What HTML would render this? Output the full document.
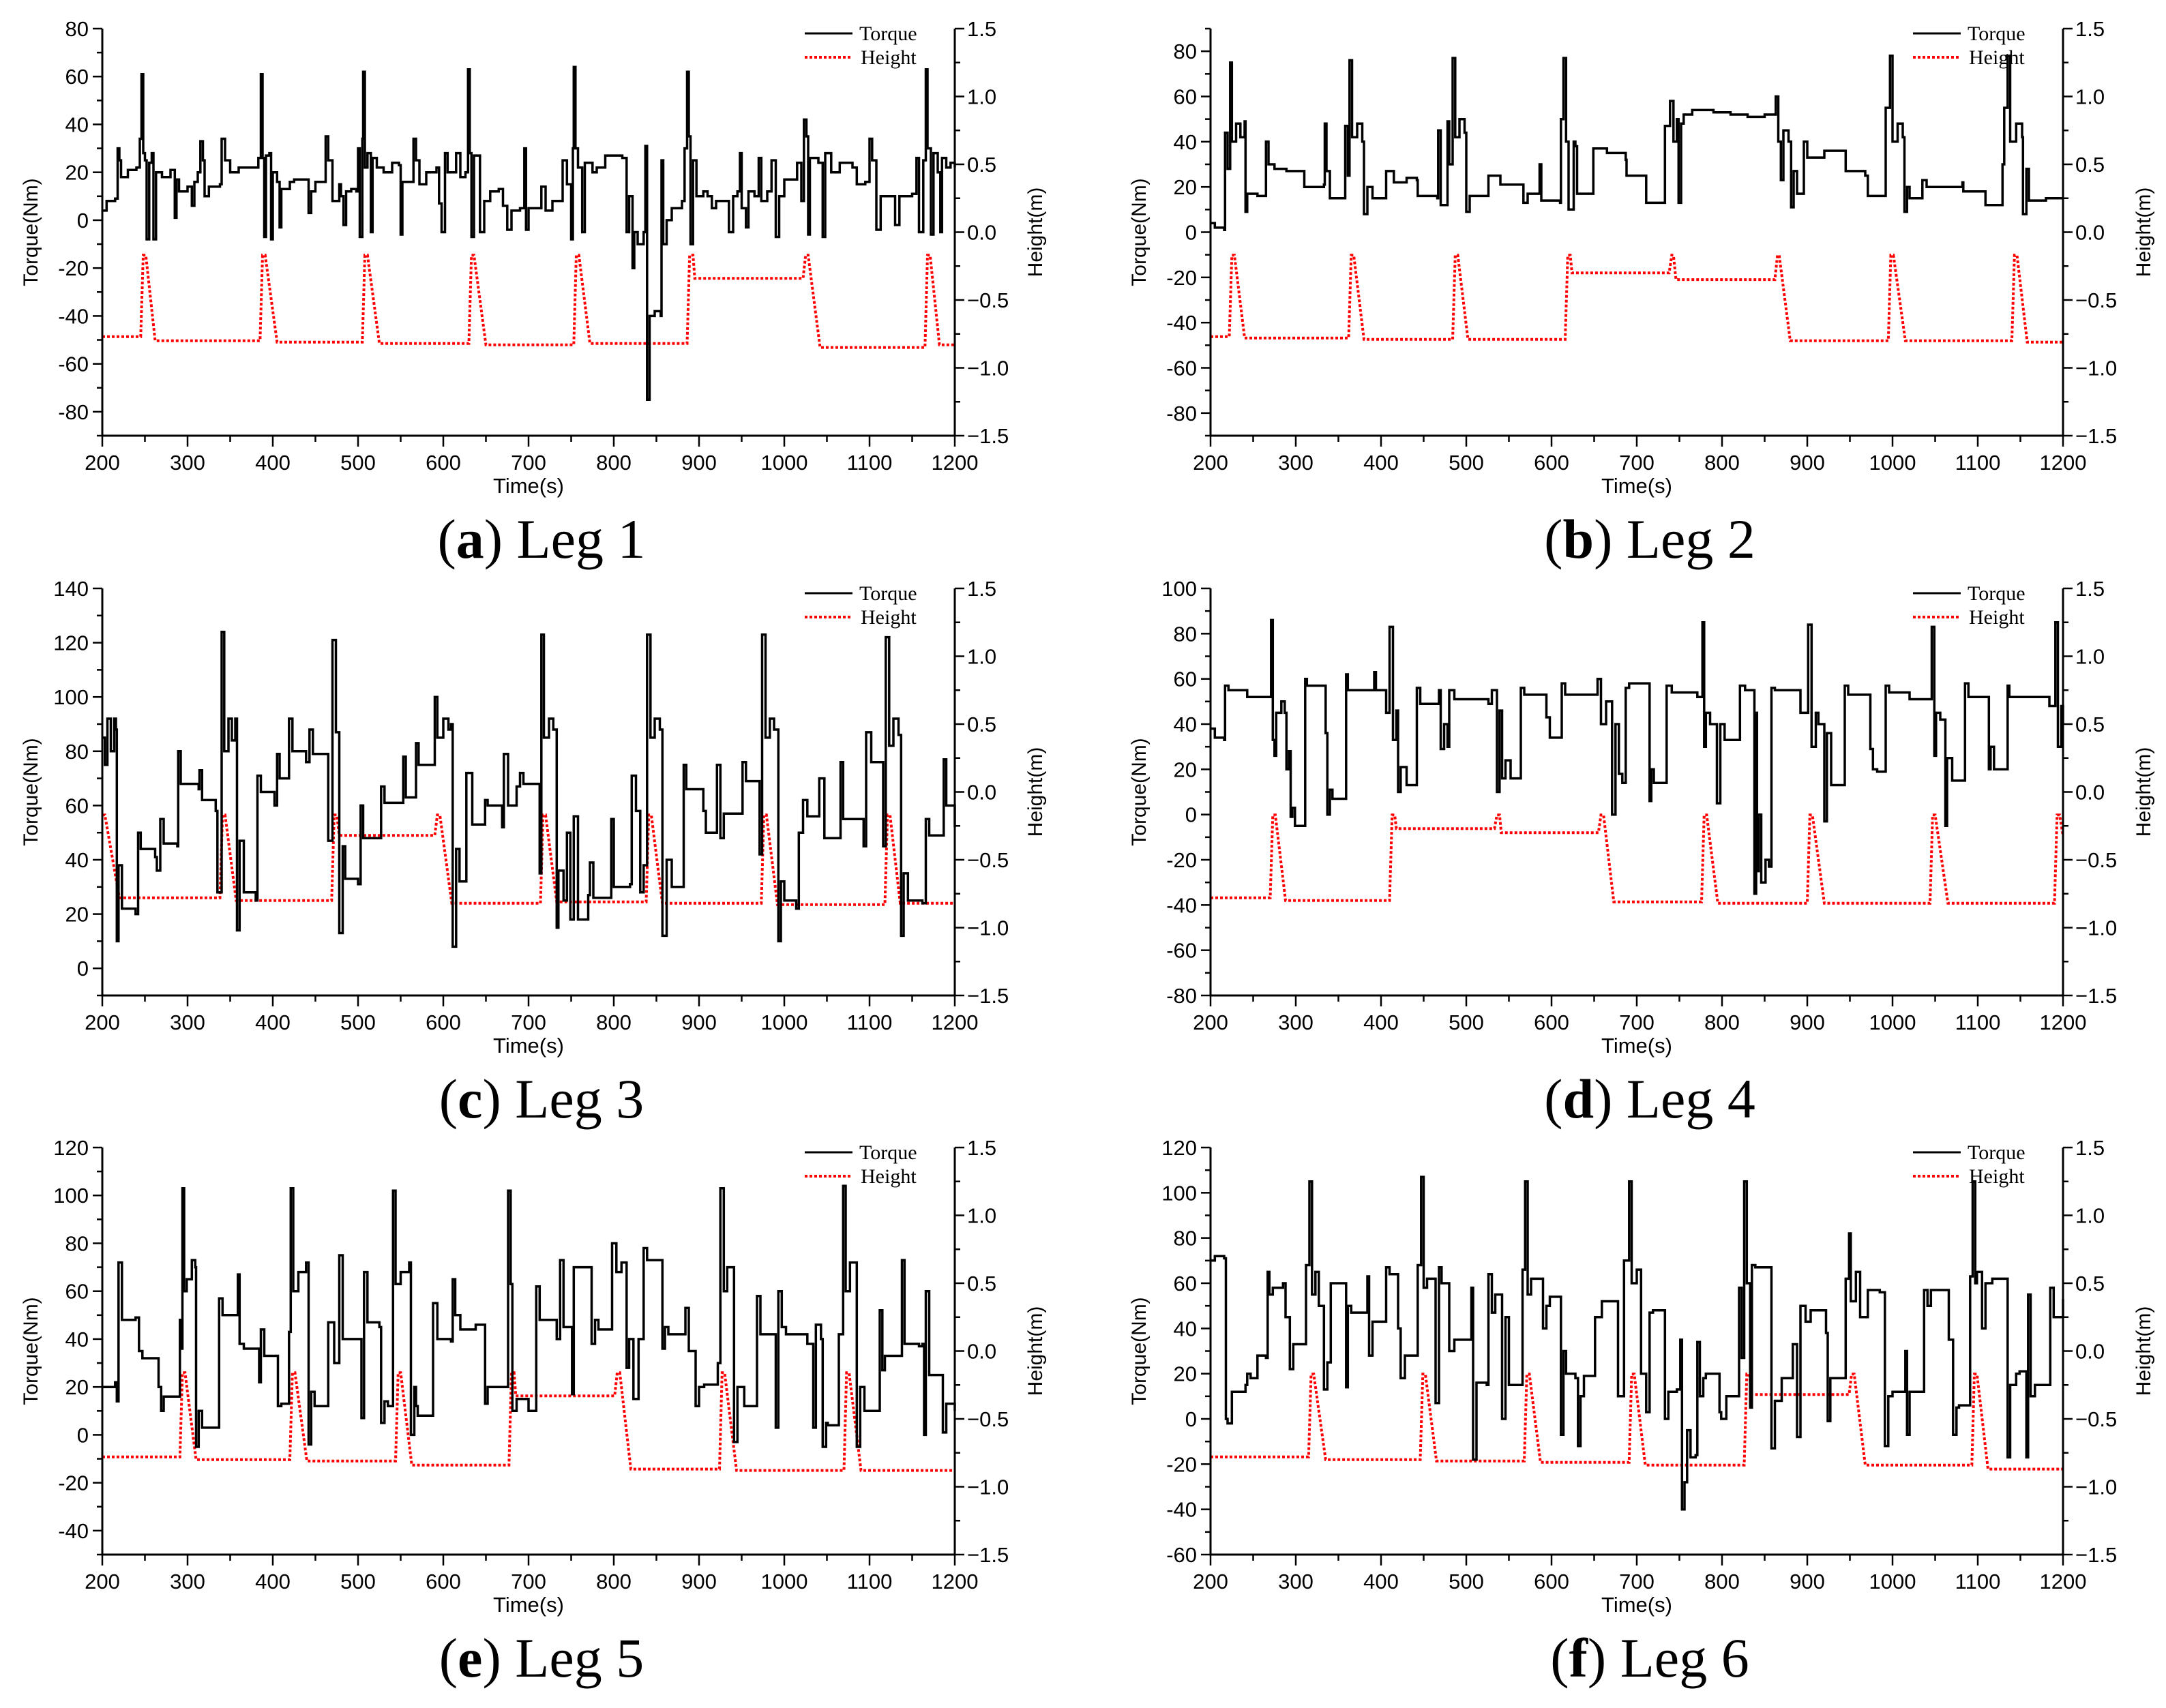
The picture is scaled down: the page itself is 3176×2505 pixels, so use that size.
<!DOCTYPE html>
<html><head><meta charset="utf-8"><style>
html,body{margin:0;padding:0;background:#fff;}
svg{display:block;}
</style></head><body>
<svg id="fig" xmlns="http://www.w3.org/2000/svg" width="3176" height="2505" viewBox="0 0 3176 2505"></svg>
<script>
const timeTicks = [200,300,400,500,600,700,800,900,1000,1100,1200];
const heightTicks = [-1.5,-1.0,-0.5,0.0,0.5,1.0,1.5];
const heightTickLabels = ["\u22121.5","\u22121.0","\u22120.5","0.0","0.5","1.0","1.5"];
const legNames = ["Leg 1","Leg 2","Leg 3","Leg 4","Leg 5","Leg 6"];
const panelLetters = ["a","b","c","d","e","f"];
const torqueTicks1 = [-80,-60,-40,-20,0,20,40,60,80];
const torqueTicks2 = [-80,-60,-40,-20,0,20,40,60,80];
const torqueTicks3 = [0,20,40,60,80,100,120,140];
const torqueTicks4 = [-80,-60,-40,-20,0,20,40,60,80,100];
const torqueTicks5 = [-40,-20,0,20,40,60,80,100,120];
const torqueTicks6 = [-60,-40,-20,0,20,40,60,80,100,120];
const torqueRange1 = [-90,80];
const torqueRange2 = [-90,90];
const torqueRange3 = [-10,140];
const torqueRange4 = [-80,100];
const torqueRange5 = [-50,120];
const torqueRange6 = [-60,120];

const torque1 = [[200,4],[205,8],[215,9],[218,30],[220,25],[222,18],[230,21],[240,22],[244,34],[246,61],[248,28],[250,25],[252,-8],[255,24],[258,28],[260,-8],[263,20],[270,18],[280,21],[285,1],[287,17],[290,12],[300,14],[305,6],[308,16],[312,20],[315,33],[318,25],[320,10],[325,14],[338,15],[340,34],[344,25],[350,20],[360,22],[380,22],[383,26],[386,61],[388,26],[390,-7],[392,27],[396,28],[398,-8],[400,20],[405,16],[408,-3],[410,13],[420,16],[425,17],[440,17],[442,3],[445,12],[450,16],[458,16],[462,35],[465,25],[470,8],[478,15],[480,10],[483,-2],[486,12],[492,13],[498,12],[500,30],[502,-7],[505,34],[506,62],[508,22],[511,28],[515,-5],[517,26],[522,22],[530,20],[540,24],[548,23],[550,-6],[552,16],[560,16],[565,34],[568,25],[572,15],[580,20],[590,20],[592,22],[595,7],[598,-5],[602,28],[605,20],[615,28],[620,18],[626,20],[629,63],[631,28],[633,-7],[636,27],[643,-5],[648,8],[655,12],[665,13],[670,6],[675,-4],[680,4],[690,5],[695,30],[697,-4],[700,5],[710,5],[715,14],[720,4],[728,8],[735,8],[740,25],[745,15],[750,-8],[752,30],[753,64],[755,30],[758,22],[763,-5],[766,24],[775,20],[780,22],[790,27],[810,26],[815,-5],[818,10],[822,-20],[824,-5],[828,-10],[835,-5],[837,31],[839,-75],[842,-40],[848,-38],[855,-40],[856,25],[858,-10],[862,0],[868,5],[880,8],[883,30],[886,62],[888,35],[890,-10],[893,25],[897,10],[905,12],[910,10],[915,5],[920,8],[930,8],[935,-5],[940,10],[945,12],[948,28],[950,5],[955,-3],[958,12],[965,10],[970,26],[973,8],[980,12],[985,25],[990,-7],[994,10],[1000,17],[1010,17],[1015,24],[1020,8],[1023,42],[1026,35],[1028,-6],[1030,26],[1040,24],[1045,-7],[1048,28],[1055,20],[1065,24],[1080,22],[1085,15],[1095,16],[1100,34],[1103,25],[1108,-4],[1113,10],[1125,10],[1130,-2],[1135,10],[1150,11],[1155,26],[1158,-5],[1163,25],[1166,63],[1168,30],[1172,-6],[1175,28],[1180,20],[1183,-5],[1185,26],[1190,22],[1195,24],[1200,22]];
const height1 = [[200,-0.77],[245,-0.77],[248,-0.17],[251,-0.17],[262,-0.8],[385,-0.8],[388,-0.17],[391,-0.17],[405,-0.81],[505,-0.81],[508,-0.17],[511,-0.17],[525,-0.82],[630,-0.82],[633,-0.17],[636,-0.17],[650,-0.83],[753,-0.83],[756,-0.17],[759,-0.17],[772,-0.82],[886,-0.82],[889,-0.17],[893,-0.17],[895,-0.34],[1022,-0.34],[1025,-0.17],[1028,-0.17],[1042,-0.85],[1165,-0.85],[1168,-0.17],[1171,-0.17],[1182,-0.83],[1200,-0.83]];

const torque2 = [[200,4],[205,2],[216,1],[217,44],[220,28],[223,75],[225,40],[230,48],[235,42],[240,49],[241,9],[243,17],[255,16],[264,16],[265,40],[268,30],[275,28],[289,27],[309,27],[310,20],[333,21],[334,48],[336,27],[340,15],[357,15],[358,47],[361,25],[363,76],[366,42],[372,48],[378,40],[380,8],[384,20],[390,15],[405,15],[406,27],[415,22],[430,24],[442,23],[443,16],[466,15],[467,45],[470,12],[478,49],[480,30],[484,77],[487,42],[492,50],[498,44],[500,9],[504,16],[522,16],[526,25],[540,21],[566,21],[567,13],[572,17],[585,17],[586,30],[588,14],[610,13],[611,50],[614,77],[617,40],[620,10],[626,40],[628,38],[630,17],[647,17],[649,37],[665,35],[687,32],[688,25],[709,25],[711,13],[731,13],[733,47],[739,58],[743,40],[747,50],[749,13],[752,48],[755,52],[765,54],[790,53],[810,52],[830,51],[850,52],[863,60],[866,40],[869,23],[872,45],[878,40],[881,11],[884,27],[888,17],[895,17],[896,40],[900,33],[919,33],[920,36],[944,36],[945,27],[968,25],[971,16],[991,16],[992,55],[997,78],[1000,40],[1006,48],[1012,42],[1014,9],[1017,20],[1020,15],[1034,15],[1035,23],[1040,20],[1082,22],[1083,18],[1106,18],[1109,12],[1128,12],[1129,30],[1131,55],[1135,78],[1138,40],[1145,48],[1152,42],[1153,8],[1157,28],[1160,14],[1180,15],[1200,15]];
const height2 = [[200,-0.77],[222,-0.77],[225,-0.17],[228,-0.17],[240,-0.78],[362,-0.78],[365,-0.17],[368,-0.17],[380,-0.79],[484,-0.79],[487,-0.17],[490,-0.17],[502,-0.79],[616,-0.79],[619,-0.17],[622,-0.17],[624,-0.3],[738,-0.3],[741,-0.17],[743,-0.17],[746,-0.35],[862,-0.35],[865,-0.17],[867,-0.17],[880,-0.8],[995,-0.8],[998,-0.17],[1001,-0.17],[1015,-0.8],[1140,-0.8],[1143,-0.17],[1146,-0.17],[1158,-0.81],[1200,-0.81]];

const torque3 = [[200,85],[203,75],[206,92],[210,80],[214,92],[216,88],[217,10],[219,38],[223,22],[239,20],[242,50],[245,44],[262,41],[264,36],[268,55],[272,46],[288,45],[289,80],[292,68],[313,66],[314,73],[317,62],[333,58],[335,28],[340,124],[343,80],[348,92],[352,84],[356,92],[358,14],[361,47],[366,28],[380,25],[382,71],[386,65],[402,60],[405,79],[408,70],[416,70],[419,92],[423,80],[439,76],[443,88],[447,79],[464,79],[465,47],[470,121],[474,87],[478,13],[482,45],[485,33],[500,31],[503,60],[506,48],[525,48],[527,67],[531,61],[549,61],[553,78],[556,63],[568,83],[571,75],[586,75],[590,100],[593,85],[600,92],[606,88],[609,90],[611,8],[615,44],[619,32],[627,72],[634,53],[647,53],[649,62],[652,60],[669,52],[671,79],[676,60],[686,67],[690,72],[694,68],[708,68],[713,35],[715,123],[718,85],[724,92],[729,88],[733,15],[735,36],[741,25],[745,50],[749,18],[753,56],[758,18],[770,27],[772,39],[776,26],[794,26],[797,55],[800,30],[819,31],[821,71],[826,58],[831,28],[835,38],[839,123],[843,85],[848,92],[854,88],[857,12],[862,40],[868,30],[880,30],[882,75],[885,66],[905,58],[908,50],[917,50],[921,75],[925,48],[929,57],[945,57],[951,76],[955,69],[970,69],[971,42],[974,123],[978,85],[983,92],[988,88],[993,10],[996,32],[1000,25],[1014,22],[1017,50],[1022,62],[1027,56],[1039,56],[1041,70],[1047,48],[1064,48],[1066,76],[1069,55],[1091,55],[1093,45],[1096,87],[1102,76],[1114,76],[1116,45],[1119,122],[1123,82],[1128,92],[1134,86],[1137,12],[1140,35],[1145,25],[1162,24],[1166,55],[1170,49],[1184,49],[1187,77],[1190,60],[1200,52]];
const height3 = [[200,-0.17],[203,-0.17],[220,-0.78],[338,-0.78],[341,-0.17],[344,-0.17],[357,-0.8],[469,-0.8],[472,-0.17],[475,-0.17],[478,-0.32],[590,-0.32],[593,-0.17],[596,-0.17],[610,-0.82],[714,-0.82],[717,-0.17],[720,-0.17],[733,-0.81],[838,-0.81],[841,-0.17],[844,-0.17],[857,-0.82],[973,-0.82],[976,-0.17],[979,-0.17],[992,-0.83],[1118,-0.83],[1121,-0.17],[1124,-0.17],[1136,-0.82],[1200,-0.82]];

const torque4 = [[200,38],[205,34],[216,33],[217,57],[221,55],[241,55],[243,52],[269,52],[271,86],[273,33],[275,26],[277,45],[283,50],[287,45],[289,20],[292,28],[294,-1],[296,3],[299,-5],[309,-5],[311,60],[313,57],[333,57],[335,36],[337,0],[340,11],[343,7],[357,7],[359,62],[361,55],[392,63],[394,55],[406,45],[410,83],[414,33],[418,46],[420,10],[423,21],[430,13],[439,13],[442,56],[446,49],[466,49],[468,55],[470,29],[474,40],[478,30],[480,55],[486,51],[526,49],[530,55],[536,10],[539,46],[542,16],[546,24],[552,16],[562,16],[564,56],[568,53],[589,53],[594,43],[598,34],[610,34],[612,58],[616,53],[650,53],[654,60],[658,40],[664,50],[671,0],[675,40],[679,18],[683,14],[687,56],[691,58],[713,58],[715,6],[717,20],[720,14],[733,14],[735,57],[741,54],[771,52],[777,85],[779,30],[781,45],[786,40],[794,5],[798,40],[803,33],[819,33],[821,57],[827,55],[835,55],[838,-35],[840,45],[841,-25],[843,0],[846,-30],[851,-20],[855,-23],[858,56],[862,55],[888,55],[892,45],[901,84],[905,30],[910,45],[913,40],[920,-3],[923,36],[928,13],[942,13],[944,57],[948,53],[968,53],[974,29],[977,20],[982,19],[990,19],[992,57],[996,54],[1016,54],[1020,51],[1042,51],[1046,83],[1049,26],[1051,45],[1056,42],[1062,-5],[1064,25],[1070,15],[1081,15],[1085,58],[1089,52],[1109,52],[1113,20],[1115,30],[1119,20],[1131,20],[1135,57],[1137,52],[1181,52],[1184,48],[1191,85],[1194,30],[1198,48],[1200,40]];
const height4 = [[200,-0.78],[270,-0.78],[273,-0.17],[276,-0.17],[288,-0.8],[410,-0.8],[413,-0.17],[416,-0.17],[418,-0.27],[533,-0.27],[536,-0.17],[539,-0.17],[541,-0.3],[655,-0.3],[658,-0.17],[661,-0.17],[673,-0.81],[776,-0.81],[779,-0.17],[782,-0.17],[795,-0.82],[900,-0.82],[903,-0.17],[906,-0.17],[920,-0.82],[1044,-0.82],[1047,-0.17],[1050,-0.17],[1065,-0.82],[1190,-0.82],[1193,-0.17],[1196,-0.17],[1200,-0.32]];

const torque5 = [[200,20],[215,22],[217,14],[219,72],[223,48],[239,49],[243,35],[247,32],[264,32],[266,20],[269,10],[272,16],[288,16],[291,48],[292,36],[294,103],[296,60],[299,65],[305,73],[309,70],[310,-5],[313,10],[317,3],[333,3],[337,57],[341,50],[356,50],[359,67],[361,38],[366,36],[380,36],[384,22],[386,44],[390,33],[402,33],[406,12],[410,13],[416,13],[419,43],[421,103],[424,60],[430,68],[439,72],[442,-4],[445,18],[449,12],[464,12],[465,47],[472,30],[478,75],[482,40],[500,40],[504,7],[507,68],[511,47],[525,45],[527,5],[531,14],[535,12],[541,102],[544,63],[550,68],[560,72],[562,0],[566,20],[568,12],[570,8],[586,8],[588,55],[593,40],[609,39],[611,65],[614,50],[620,44],[635,44],[638,46],[649,13],[652,20],[669,20],[676,102],[679,63],[681,10],[686,15],[700,10],[707,10],[709,62],[713,48],[729,48],[733,40],[737,73],[741,45],[751,17],[753,70],[770,70],[774,38],[778,48],[782,44],[794,44],[798,80],[803,68],[809,72],[815,28],[818,40],[823,15],[829,40],[835,78],[839,73],[855,73],[857,36],[860,45],[864,42],[880,42],[884,53],[888,35],[896,12],[900,20],[906,21],[917,21],[922,30],[925,103],[929,60],[933,70],[939,70],[941,-3],[945,20],[953,12],[966,12],[968,58],[972,42],[988,42],[990,3],[993,60],[997,45],[1002,42],[1027,38],[1034,3],[1037,46],[1043,40],[1045,-5],[1049,5],[1051,4],[1060,4],[1064,42],[1069,104],[1072,60],[1077,72],[1083,72],[1085,-5],[1089,20],[1094,10],[1106,10],[1112,52],[1115,27],[1118,33],[1133,33],[1138,73],[1141,38],[1158,37],[1162,38],[1164,0],[1166,60],[1170,25],[1186,1],[1190,13],[1200,10]];
const height5 = [[200,-0.78],[291,-0.78],[294,-0.16],[297,-0.16],[310,-0.8],[420,-0.8],[423,-0.16],[426,-0.16],[440,-0.81],[544,-0.81],[547,-0.16],[550,-0.16],[563,-0.84],[677,-0.84],[680,-0.16],[683,-0.16],[685,-0.33],[801,-0.33],[804,-0.16],[807,-0.16],[820,-0.87],[924,-0.87],[927,-0.16],[930,-0.16],[944,-0.88],[1070,-0.88],[1073,-0.16],[1076,-0.16],[1090,-0.88],[1200,-0.88]];

const torque6 = [[200,70],[205,72],[216,71],[218,0],[220,-2],[225,12],[241,15],[243,20],[247,18],[253,18],[255,28],[265,27],[267,65],[269,55],[273,58],[285,60],[288,45],[293,22],[297,33],[309,33],[312,68],[316,105],[319,55],[323,65],[327,50],[333,13],[337,25],[341,60],[356,60],[359,14],[361,50],[365,47],[378,47],[384,63],[386,28],[390,43],[404,43],[406,67],[410,64],[418,64],[420,40],[423,18],[428,28],[439,28],[443,68],[447,107],[450,58],[454,62],[462,62],[464,7],[468,67],[471,60],[476,60],[480,30],[486,35],[498,35],[506,58],[508,-18],[512,16],[524,15],[526,64],[530,47],[534,55],[538,55],[542,0],[546,45],[550,15],[562,15],[566,66],[569,105],[572,55],[576,62],[586,62],[590,40],[594,50],[598,54],[606,54],[611,-7],[614,30],[617,20],[628,18],[631,-12],[634,10],[638,19],[647,19],[651,45],[659,52],[672,52],[678,10],[685,70],[691,105],[694,60],[700,66],[705,20],[711,3],[715,47],[719,48],[731,48],[733,0],[737,12],[747,13],[751,35],[753,-40],[756,-28],[759,-5],[763,-17],[769,-16],[771,34],[774,10],[778,18],[781,20],[793,20],[797,3],[799,0],[805,10],[817,10],[820,58],[823,27],[826,105],[829,60],[833,5],[835,68],[839,67],[855,67],[858,-13],[862,8],[870,18],[880,18],[883,33],[888,-8],[892,50],[898,43],[904,48],[920,48],[922,38],[924,-1],[927,18],[942,18],[945,62],[949,82],[951,52],[957,65],[962,45],[969,45],[971,57],[985,56],[991,-12],[995,10],[1000,12],[1011,12],[1015,30],[1017,-7],[1020,12],[1033,12],[1037,57],[1041,50],[1045,57],[1062,57],[1066,35],[1071,-7],[1075,5],[1078,6],[1089,6],[1091,63],[1094,105],[1097,60],[1099,65],[1105,40],[1109,60],[1117,62],[1132,62],[1135,-17],[1138,15],[1145,20],[1149,21],[1157,-17],[1159,55],[1162,10],[1167,15],[1181,15],[1185,58],[1189,45],[1200,53]];
const height6 = [[200,-0.78],[315,-0.78],[318,-0.17],[321,-0.17],[335,-0.8],[446,-0.8],[449,-0.17],[452,-0.17],[465,-0.81],[568,-0.81],[571,-0.17],[574,-0.17],[587,-0.82],[691,-0.82],[694,-0.17],[697,-0.17],[710,-0.84],[826,-0.84],[829,-0.17],[832,-0.17],[835,-0.32],[949,-0.32],[952,-0.17],[955,-0.17],[968,-0.84],[1093,-0.84],[1096,-0.17],[1099,-0.17],[1112,-0.87],[1200,-0.87]];

const torqueSeries = [torque1,torque2,torque3,torque4,torque5,torque6];
const heightSeries = [height1,height2,height3,height4,height5,height6];
const torqueTickSets = [torqueTicks1,torqueTicks2,torqueTicks3,torqueTicks4,torqueTicks5,torqueTicks6];
const torqueRanges = [torqueRange1,torqueRange2,torqueRange3,torqueRange4,torqueRange5,torqueRange6];

const NS = "http://www.w3.org/2000/svg";
const svg = document.getElementById("fig");
function mk(tag, attrs, parent){
  const e = document.createElementNS(NS, tag);
  for (const k in attrs) e.setAttribute(k, attrs[k]);
  (parent || svg).appendChild(e);
  return e;
}
const colL = [150, 1775];
const plotW = 1250;
const rowT = [42, 863, 1683];
const plotH = 597;

for (let p = 0; p < 6; p++) {
  const col = p % 2, row = Math.floor(p / 2);
  const L = colL[col], R = L + plotW, T = rowT[row], B = T + plotH;
  const tr = torqueRanges[p];
  const xS = t => L + (t - 200) / 1000 * plotW;
  const yT = v => B - (v - tr[0]) / (tr[1] - tr[0]) * plotH;
  const yH = h => B - (h + 1.5) / 3 * plotH;
  const g = mk("g", {});
  
  

  // height series
  const hp = heightSeries[p].map((d, i) => (i ? "L" : "M") + xS(d[0]).toFixed(1) + " " + yH(d[1]).toFixed(1)).join("");
  const hl = mk("path", {d: hp, fill: "none", stroke: "#ff0000", "stroke-width": 4, "stroke-dasharray": "4 3"}, g);
  
  

  // torque series (step-like: hold level, then vertical jump)
  const ts = torqueSeries[p];
  let tp = "M" + xS(ts[0][0]).toFixed(1) + " " + yT(ts[0][1]).toFixed(1);
  for (let i = 1; i < ts.length; i++) {
    tp += "H" + xS(ts[i][0]).toFixed(1) + "V" + yT(ts[i][1]).toFixed(1);
  }
  const tl = mk("path", {d: tp, fill: "none", stroke: "#000", "stroke-width": 3.5, "stroke-linejoin": "miter"}, g);
  
  

  // axes
  const ax = mk("path", {d: `M${L} ${T}V${B}H${R}V${T}`, fill: "none", stroke: "#000", "stroke-width": 3}, g);
  
  

  // x ticks
  timeTicks.forEach((t, i) => {
    const x = xS(t);
    mk("line", {x1: x, y1: B, x2: x, y2: B + 16, stroke: "#000", "stroke-width": 2.5}, g);
    if (i < timeTicks.length - 1) {
      const xm = xS(t + 50);
      mk("line", {x1: xm, y1: B, x2: xm, y2: B + 9, stroke: "#000", "stroke-width": 2.5}, g);
    }
    const lb = mk("text", {x: x, y: B + 50, "text-anchor": "middle", "font-family": "Liberation Sans, sans-serif", "font-size": 31}, g);
    lb.textContent = t;
    
    
  });

  // left ticks
  const tt = torqueTickSets[p];
  const step = tt[1] - tt[0];
  tt.forEach(v => {
    const y = yT(v);
    mk("line", {x1: L - 14, y1: y, x2: L, y2: y, stroke: "#000", "stroke-width": 2.5}, g);
    const lb = mk("text", {x: L - 20, y: y + 11, "text-anchor": "end", "font-family": "Liberation Sans, sans-serif", "font-size": 31}, g);
    lb.textContent = v < 0 ? "-" + Math.abs(v) : String(v);
    
    
  });
  for (let v = tt[0] - step / 2; v <= tr[1]; v += step) {
    if (v < tr[0]) continue;
    const y = yT(v);
    mk("line", {x1: L - 8, y1: y, x2: L, y2: y, stroke: "#000", "stroke-width": 2.5}, g);
  }

  // right ticks
  heightTicks.forEach((h, i) => {
    const y = yH(h);
    mk("line", {x1: R, y1: y, x2: R + 14, y2: y, stroke: "#000", "stroke-width": 2.5}, g);
    if (i < heightTicks.length - 1) {
      const ym = yH(h + 0.25);
      mk("line", {x1: R, y1: ym, x2: R + 8, y2: ym, stroke: "#000", "stroke-width": 2.5}, g);
    }
    const lb = mk("text", {x: R + 18, y: y + 11, "font-family": "Liberation Sans, sans-serif", "font-size": 31}, g);
    lb.textContent = heightTickLabels[i];
    
    
  });

  // axis titles
  const yl = mk("text", {x: 0, y: 0, transform: `translate(${L - 95},${(T + B) / 2}) rotate(-90)`, "text-anchor": "middle", "font-family": "Liberation Sans, sans-serif", "font-size": 30}, g);
  yl.textContent = "Torque(Nm)";
  
  
  const yr = mk("text", {x: 0, y: 0, transform: `translate(${R + 128},${(T + B) / 2}) rotate(-90)`, "text-anchor": "middle", "font-family": "Liberation Sans, sans-serif", "font-size": 30}, g);
  yr.textContent = "Height(m)";
  
  
  const xl = mk("text", {x: (L + R) / 2, y: B + 84, "text-anchor": "middle", "font-family": "Liberation Sans, sans-serif", "font-size": 31}, g);
  xl.textContent = "Time(s)";
  
  

  // legend
  const lg = mk("g", {}, g);
  
  
  mk("line", {x1: L + 1030, y1: T + 7, x2: L + 1100, y2: T + 7, stroke: "#000", "stroke-width": 3}, lg);
  const l1 = mk("text", {x: L + 1110, y: T + 17, "font-family": "Liberation Serif, serif", "font-size": 30}, lg);
  l1.textContent = "Torque";
  
  
  mk("line", {x1: L + 1030, y1: T + 42, x2: L + 1100, y2: T + 42, stroke: "#ff0000", "stroke-width": 4, "stroke-dasharray": "4 3"}, lg);
  const l2 = mk("text", {x: L + 1112, y: T + 52, "font-family": "Liberation Serif, serif", "font-size": 30}, lg);
  l2.textContent = "Height";
  
  

  // caption
  const cap = mk("text", {x: L + 644, y: B + 179, "text-anchor": "middle", "font-family": "Liberation Serif, serif", "font-size": 82}, g);
  
  
  const s1 = mk("tspan", {}, cap); s1.textContent = "(";
  const s2 = mk("tspan", {"font-weight": "bold"}, cap); s2.textContent = panelLetters[p];
  const s3 = mk("tspan", {}, cap); s3.textContent = ") " + legNames[p];
}
</script>
</body></html>
